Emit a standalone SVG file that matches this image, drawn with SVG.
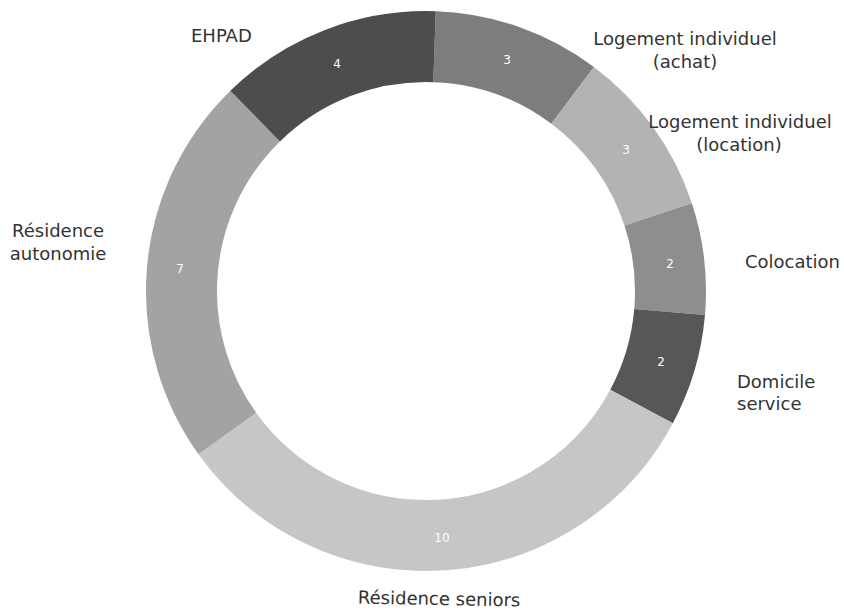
<svg xmlns="http://www.w3.org/2000/svg" width="844" height="613" viewBox="0 0 844 613">
<style>
.seg{fill:none;stroke-width:71}
.lbl{font-family:"DejaVu Sans",Verdana,sans-serif;font-size:18px;fill:#333333}
.val{font-family:"DejaVu Sans",Verdana,sans-serif;font-size:12px;fill:#ffffff;text-anchor:middle}
.mid{text-anchor:middle}
</style>
<rect width="844" height="613" fill="#ffffff"/>
<g id="ring" transform="rotate(-88 426 291)">
<g id="seg-achat"><circle class="seg" cx="426" cy="291" r="244.5" stroke="#7d7d7d" stroke-dasharray="148.668 1536.24" stroke-dashoffset="0"/></g>
<g id="seg-location"><circle class="seg" cx="426" cy="291" r="244.5" stroke="#b3b3b3" stroke-dasharray="148.668 1536.24" stroke-dashoffset="-148.668"/></g>
<g id="seg-colocation"><circle class="seg" cx="426" cy="291" r="244.5" stroke="#8e8e8e" stroke-dasharray="99.112 1536.24" stroke-dashoffset="-297.336"/></g>
<g id="seg-domicile"><circle class="seg" cx="426" cy="291" r="244.5" stroke="#575757" stroke-dasharray="99.112 1536.24" stroke-dashoffset="-396.448"/></g>
<g id="seg-seniors"><circle class="seg" cx="426" cy="291" r="244.5" stroke="#c6c6c6" stroke-dasharray="495.56 1536.24" stroke-dashoffset="-495.56"/></g>
<g id="seg-autonomie"><circle class="seg" cx="426" cy="291" r="244.5" stroke="#a3a3a3" stroke-dasharray="346.892 1536.24" stroke-dashoffset="-991.12"/></g>
<g id="seg-ehpad"><circle class="seg" cx="426" cy="291" r="244.5" stroke="#4d4d4d" stroke-dasharray="198.224 1536.24" stroke-dashoffset="-1338.012"/></g>
</g>
<g id="values">
<text class="val" x="337" y="68">4</text>
<text class="val" x="507" y="64">3</text>
<text class="val" x="626" y="154">3</text>
<text class="val" x="670" y="268">2</text>
<text class="val" x="661" y="366">2</text>
<text class="val" x="442" y="542">10</text>
<text class="val" x="180" y="273">7</text>
</g>
<g id="labels">
<text class="lbl" x="191" y="42">EHPAD</text>
<text class="lbl mid" x="685" y="45">Logement individuel</text>
<text class="lbl mid" x="685" y="68">(achat)</text>
<text class="lbl mid" x="740" y="128">Logement individuel</text>
<text class="lbl mid" x="739" y="151">(location)</text>
<text class="lbl" x="745" y="268">Colocation</text>
<text class="lbl" x="737" y="388">Domicile</text>
<text class="lbl" x="737" y="410">service</text>
<text class="lbl mid" x="439" y="605" transform="rotate(1 439 605)">Résidence seniors</text>
<text class="lbl mid" x="58" y="237">Résidence</text>
<text class="lbl mid" x="58" y="260">autonomie</text>
</g>
</svg>
